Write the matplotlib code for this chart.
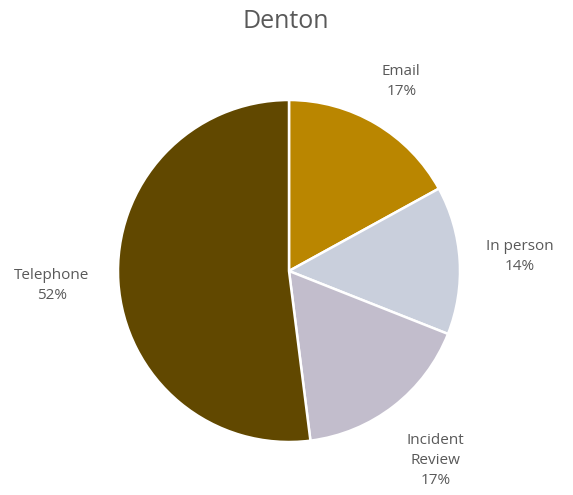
import numpy as np
import matplotlib.pyplot as plt

# Share of contacts by channel, Denton
channels = ["Email", "In person", "Incident\nReview", "Telephone"]
shares = [17, 14, 17, 52]
colors = ["#BA8600", "#C9CFDC", "#C2BDCC", "#614800"]
label_dist = [1.29, 1.35, 1.40, 1.39]

fig = plt.figure(figsize=(5.73, 4.95), dpi=100)
ax = fig.add_axes([0, 0, 1, 1])

# pie of radius 1 centred at (0, 0); limits put it where it belongs on the canvas
r_px = 171.0
cx, cy = 289.0, 271.0

wedges, _ = ax.pie(shares, colors=colors, startangle=90, counterclock=False,
                   radius=1.0, center=(0, 0), frame=True,
                   wedgeprops=dict(edgecolor="white", linewidth=1.8))
ax.set_xlim(-cx / r_px, (573 - cx) / r_px)
ax.set_ylim(-(495 - cy) / r_px, cy / r_px)
ax.set_aspect("auto")
ax.axis("off")

for w, name, val, d in zip(wedges, channels, shares, label_dist):
    mid = np.deg2rad((w.theta1 + w.theta2) / 2)
    ax.text(d * np.cos(mid), d * np.sin(mid), f"{name}\n{val}%",
            ha="center", va="center", fontsize=11, color="#595959",
            family="Open Sans", linespacing=1.45)

fig.text(286 / 573, 1 - 22 / 495, "Denton", ha="center", va="center",
         fontsize=18, color="#595959", family="Open Sans")

fig.savefig("out.png", dpi=100)
